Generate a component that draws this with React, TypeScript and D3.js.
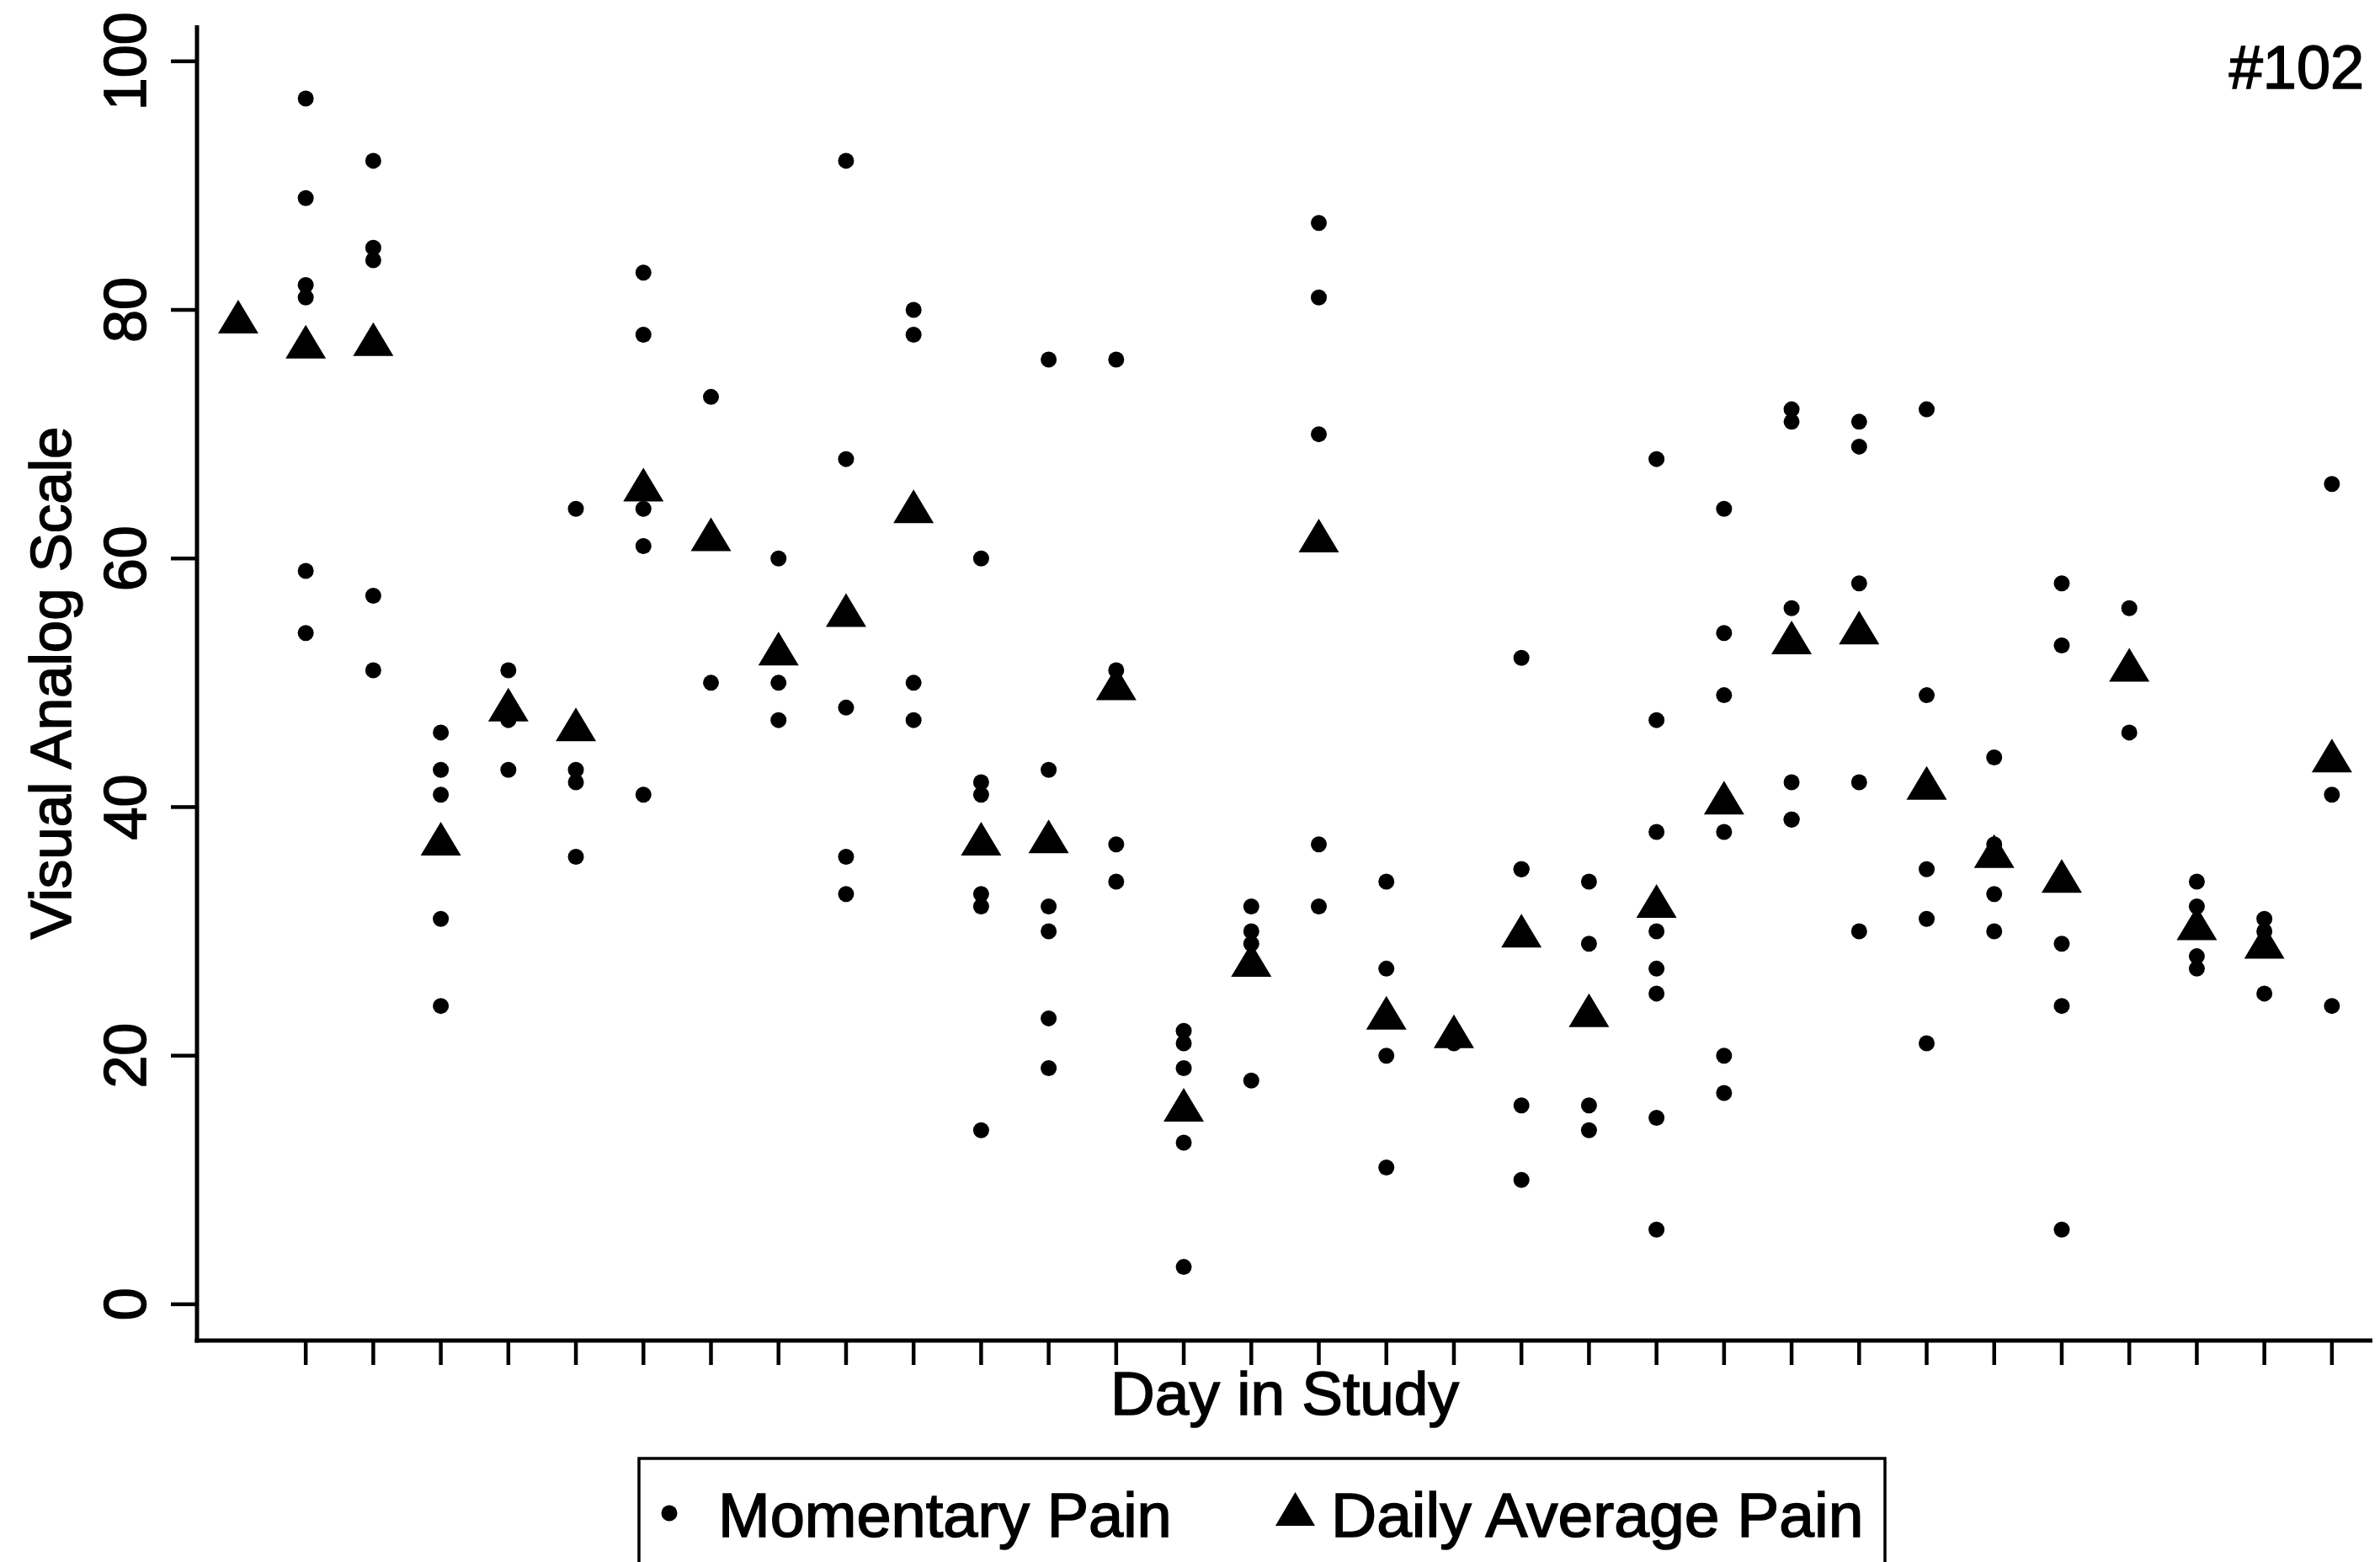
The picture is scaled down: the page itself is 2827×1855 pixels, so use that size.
import React from "react";
import * as d3 from "d3";

// ---- data ----
const days: number[] = Array.from({ length: 32 }, (_, i) => i + 1);

const momentaryPain: number[][] = [
  [79],
  [97, 89, 82, 81, 59, 54],
  [92, 85, 84, 57, 51],
  [46, 43, 41, 31, 24],
  [51, 47, 43],
  [64, 43, 42, 36],
  [83, 78, 64, 61, 41],
  [73, 50],
  [60, 50, 47],
  [92, 68, 48, 36, 33],
  [80, 78, 50, 47],
  [60, 42, 41, 33, 32, 14],
  [76, 43, 32, 30, 23, 19],
  [76, 51, 37, 34],
  [22, 21, 19, 13, 3],
  [32, 30, 29, 18],
  [87, 81, 70, 37, 32],
  [34, 27, 20, 11],
  [22, 21],
  [52, 35, 35, 16, 10],
  [34, 29, 16, 14],
  [68, 47, 38, 30, 27, 25, 15, 6],
  [64, 54, 49, 38, 20, 17],
  [72, 71, 56, 42, 39, 39],
  [71, 69, 58, 42, 30],
  [72, 49, 35, 31, 21],
  [44, 37, 33, 30],
  [58, 53, 29, 24, 6],
  [56, 46],
  [34, 32, 28, 27],
  [31, 30, 25],
  [66, 41, 24],
];

const dailyAverage: number[] = [
  79, 77, 77.2, 37, 47.8, 46.2, 65.5, 61.5, 52.3, 55.4, 63.75, 37, 37.2, 49.5,
  15.6, 27.25, 61.4, 23, 21.5, 29.6, 23.2, 32, 40.3, 53.2, 54, 41.5, 36, 34, 51,
  30.2, 28.7, 43.7,
];

const yTicks: number[] = [0, 20, 40, 60, 80, 100];
const xTicks: number[] = days.slice(1);

const yTitle = "Visual Analog Scale";
const xTitle = "Day in Study";
const panelLabel = "#102";
const legendLabels = ["Momentary Pain", "Daily Average Pain"];

// ---- layout ----
const W = 2827;
const H = 1855;
const FONT = "'Liberation Sans', Arial, Helvetica, sans-serif";

const x = d3.scaleLinear().domain([0.39, 32.6]).range([234, 2818]);
const y = d3.scaleLinear().domain([-2.92, 102.9]).range([1592, 30]);

const DOT_R = 9.5;
const TRI_W = 48;
const TRI_H = 40;

function triPath(cx: number, cy: number): string {
  const top = cy - (2 * TRI_H) / 3;
  const bot = cy + TRI_H / 3;
  return `M${cx},${top}L${cx + TRI_W / 2},${bot}L${cx - TRI_W / 2},${bot}Z`;
}

const textStyle = { fill: "#000", stroke: "#000", strokeWidth: 1.6 };

export default function App() {
  const [x0, x1] = x.range();
  const [yb, yt] = y.range();
  const tickLen = 29;

  const dots: { d: number; v: number }[] = [];
  momentaryPain.forEach((vals, i) => vals.forEach((v) => dots.push({ d: days[i], v })));

  return (
    <svg
      width={W}
      height={H}
      viewBox={`0 0 ${W} ${H}`}
      style={{ position: "absolute", left: 0, top: 0, background: "#fff" }}
      fontFamily={FONT}
    >
      <rect x={0} y={0} width={W} height={H} fill="#fff" />

      {/* axes */}
      <line x1={x0} x2={x0} y1={yt} y2={yb + 2.5} stroke="#000" strokeWidth={5} />
      <line x1={x0 - 2.5} x2={x1} y1={yb} y2={yb} stroke="#000" strokeWidth={5} />

      {/* y ticks + labels */}
      {yTicks.map((t) => (
        <g key={"yt" + t}>
          <line x1={x0 - tickLen - 2} x2={x0} y1={y(t)} y2={y(t)} stroke="#000" strokeWidth={4.5} />
          <text
            transform={`translate(173,${y(t)}) rotate(-90)`}
            textAnchor="middle"
            fontSize={70}
            style={textStyle}
          >
            {t}
          </text>
        </g>
      ))}

      {/* x ticks */}
      {xTicks.map((t) => (
        <line
          key={"xt" + t}
          x1={x(t)}
          x2={x(t)}
          y1={yb}
          y2={yb + tickLen}
          stroke="#000"
          strokeWidth={4.5}
        />
      ))}

      {/* titles */}
      <text
        transform={`translate(84,${(yt + yb) / 2}) rotate(-90)`}
        textAnchor="middle"
        fontSize={69}
        style={textStyle}
      >
        {yTitle}
      </text>
      <text x={(x0 + x1) / 2} y={1680} textAnchor="middle" fontSize={73} style={textStyle}>
        {xTitle}
      </text>
      <text x={2808} y={105} textAnchor="end" fontSize={72} style={textStyle}>
        {panelLabel}
      </text>

      {/* momentary pain dots */}
      {dots.map((p, i) => (
        <circle key={"d" + i} cx={x(p.d)} cy={y(p.v)} r={DOT_R} fill="#000" />
      ))}

      {/* daily average triangles */}
      {dailyAverage.map((v, i) => (
        <path key={"t" + i} d={triPath(x(days[i]), y(v))} fill="#000" />
      ))}

      {/* legend */}
      <rect x={759} y={1732} width={1480} height={200} fill="none" stroke="#000" strokeWidth={3.5} />
      <circle cx={795} cy={1797} r={DOT_R} fill="#000" />
      <text x={853} y={1825} fontSize={74} style={textStyle}>
        {legendLabels[0]}
      </text>
      <path d={`M1538.5,1772L${1538.5 + 23.5},1812L${1538.5 - 23.5},1812Z`} fill="#000" />
      <text x={1581} y={1825} fontSize={75} style={textStyle}>
        {legendLabels[1]}
      </text>
    </svg>
  );
}
